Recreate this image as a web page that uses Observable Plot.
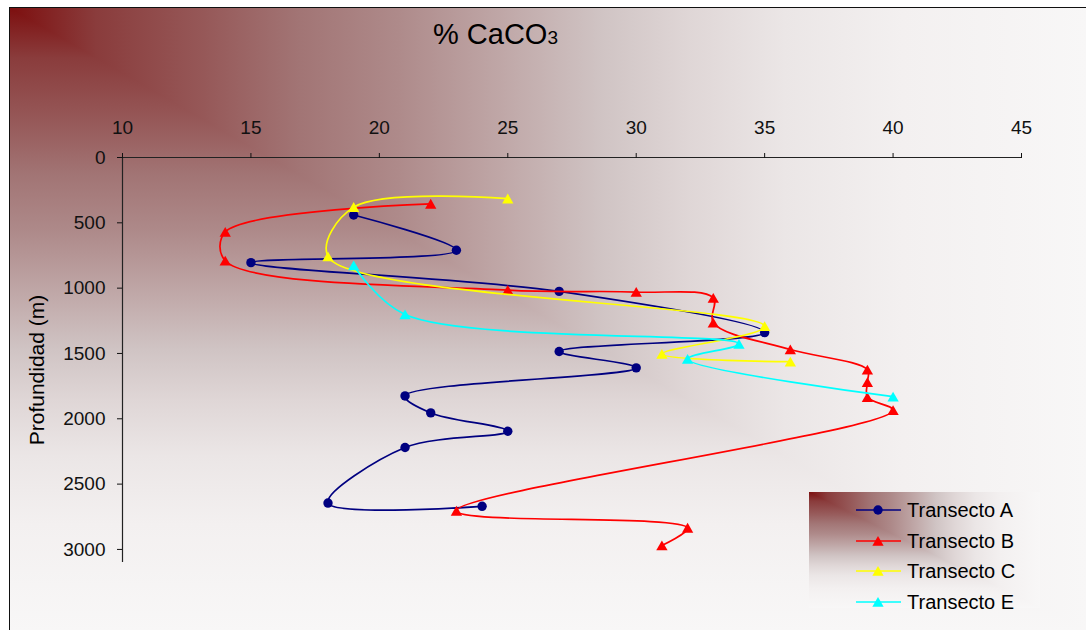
<!DOCTYPE html>
<html>
<head>
<meta charset="utf-8">
<script src="https://cdn.jsdelivr.net/npm/d3@7"></script>
<script src="https://cdn.jsdelivr.net/npm/@observablehq/plot@0.6"></script>
<style>
  html, body { margin: 0; padding: 0; background: #fff; }
  #wrap { position: relative; width: 1086px; height: 630px; overflow: hidden;
          font-family: "Liberation Sans", Arial, sans-serif; }
  .layer { position: absolute; }
  .gh { clip-path: polygon(0 0, 100% 0, 100% 100%); }
  #chartbg { left: 9px; top: 7px; width: 1077px; height: 623px;
             border-left: 1.5px solid #111; border-top: 1.5px solid #111; box-sizing: border-box; }
  #chartbg .fill, #legbg .fill { position: absolute; left: 0; top: 0; width: 100%; height: 100%; }
  #legbg { left: 809px; top: 492px; width: 231px; height: 116px; }
  #plot { position: absolute; left: 0; top: 0; }
  #plot svg text { font-size: 19px; fill: #111; }
  #over { position: absolute; left: 0; top: 0; pointer-events: none; }
</style>
</head>
<body>
<div id="wrap">
  <div id="chartbg" class="layer"><div class="fill gv"></div><div class="fill gh"></div></div>
  <div id="plot"></div>
  <div id="legbg" class="layer"><div class="fill gv"></div><div class="fill gh"></div></div>
  <svg id="over" width="1086" height="630"></svg>
</div>
<script>
// ---- data ----
const seriesNames = ["Transecto A", "Transecto B", "Transecto C", "Transecto E"];
const seriesColors = ["#000080", "#FF0000", "#FFFF00", "#00FFFF"];
const xTicks = [10, 15, 20, 25, 30, 35, 40, 45];
const yTicks = [0, 500, 1000, 1500, 2000, 2500, 3000];

const aPct   = [19, 23, 15, 27, 35, 27, 30, 21, 22, 25, 21, 18, 24];
const aDepth = [440, 710, 805, 1025, 1340, 1485, 1610, 1825, 1955, 2095, 2220, 2645, 2670];

const bPct   = [22, 14, 14, 25, 30, 33, 33, 36, 39, 39, 39, 40, 23, 32, 31];
const bDepth = [355, 570, 790, 1015, 1030, 1075, 1265, 1470, 1625, 1720, 1835, 1935, 2705, 2835, 2970];

const cPct   = [25, 19, 18, 35, 31, 36];
const cDepth = [315, 380, 758, 1292, 1504, 1563];

const ePct   = [19, 21, 34, 32, 40];
const eDepth = [827, 1202, 1427, 1542, 1831];

// ---- background gradient (from corner) ----
const stops = "#7d0f0f 0%, #8a3c3c 8%, #965858 18%, #a27575 27%, #ae8a8a 36%, #c0a8a8 46%, #d0c4c4 55%, #dfd6d6 63%, #ebe6e6 72%, #f3f0f0 83%, #f8f7f7 100%";
document.querySelectorAll(".gv").forEach(el => el.style.background = `linear-gradient(to bottom, ${stops})`);
document.querySelectorAll(".gh").forEach(el => el.style.background = `linear-gradient(to right, ${stops})`);

// ---- chart ----
const pctArr = [aPct, bPct, cPct, ePct];
const depthArr = [aDepth, bDepth, cDepth, eDepth];
const rows = seriesNames.map((name, k) =>
  pctArr[k].map((p, i) => ({serie: name, pct: p, depth: depthArr[k][i]})));

const marks = [
  Plot.ruleY([0], {stroke: "#222", strokeWidth: 1.2}),
  Plot.ruleX([10], {stroke: "#222", strokeWidth: 1.2}),
  Plot.axisX({anchor: "top", ticks: xTicks, tickSize: 5, tickPadding: 19, fontSize: 19, label: null, color: "#111", tickFormat: d => String(d)}),
  Plot.axisY({anchor: "left", ticks: yTicks, tickSize: 5, tickPadding: 12, fontSize: 19, label: null, color: "#111", tickFormat: d => String(d)})
];
rows.forEach((data, k) => {
  marks.push(Plot.line(data, {x: "pct", y: "depth", stroke: seriesColors[k], strokeWidth: 1.7, curve: "catmull-rom"}));
  if (k === 0) {
    marks.push(Plot.dot(data, {x: "pct", y: "depth", r: 4.7, fill: seriesColors[k], stroke: "none", symbol: "circle"}));
  } else {
    marks.push(Plot.dot(data, {x: "pct", y: "depth", r: 4.2, fill: seriesColors[k], stroke: "none", symbol: "triangle", dy: 1.5}));
  }
});

const chart = Plot.plot({
  width: 1086,
  height: 630,
  marginLeft: 122,
  marginRight: 65,
  marginTop: 157,
  marginBottom: 68,
  style: {background: "transparent", overflow: "visible", fontFamily: "'Liberation Sans', Arial, sans-serif", fontSize: "19px", color: "#111"},
  x: {domain: [10, 45]},
  y: {domain: [0, 3100], reverse: true},
  marks
});
document.getElementById("plot").appendChild(chart);

// ---- title, axis label, legend ----
const over = d3.select("#over");
const title = over.append("text").attr("x", 433).attr("y", 44)
  .attr("font-size", 29).attr("fill", "#000").attr("font-family", "'Liberation Sans', Arial, sans-serif");
title.append("tspan").text("% CaCO");
title.append("tspan").attr("font-size", 19).text("3");

over.append("text")
  .attr("transform", "translate(44,370) rotate(-90)")
  .attr("text-anchor", "middle")
  .attr("font-size", 21).attr("fill", "#000")
  .attr("font-family", "'Liberation Sans', Arial, sans-serif")
  .text("Profundidad (m)");

const legRowY = [510, 541, 571, 602];
seriesNames.forEach((name, k) => {
  const y = legRowY[k];
  over.append("line").attr("x1", 856).attr("x2", 901).attr("y1", y).attr("y2", y)
    .attr("stroke", seriesColors[k]).attr("stroke-width", 1.7);
  const sym = k === 0 ? d3.symbol(d3.symbolCircle, Math.PI * 4.7 * 4.7) : d3.symbol(d3.symbolTriangle, Math.PI * 4.2 * 4.2);
  over.append("path").attr("d", sym()).attr("transform", `translate(878,${y + (k === 0 ? 0 : 1.5)})`)
    .attr("fill", seriesColors[k]);
  over.append("text").attr("x", 907).attr("y", y + 6.5)
    .attr("font-size", 20).attr("fill", "#000")
    .attr("font-family", "'Liberation Sans', Arial, sans-serif")
    .text(name);
});
</script>
</body>
</html>
